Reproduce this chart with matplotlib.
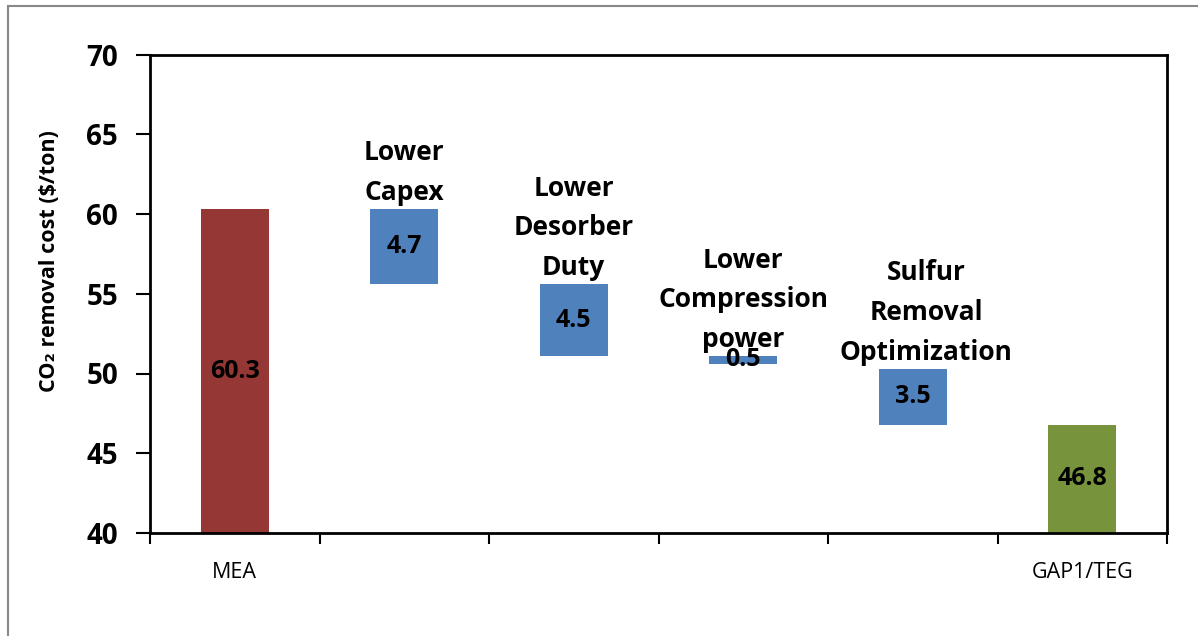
import matplotlib
matplotlib.use("Agg")
import matplotlib.pyplot as plt
from matplotlib.lines import Line2D

plt.rcParams['font.family'] = ['Open Sans', 'DejaVu Sans']

# ---- data ----
categories = ["MEA", "Lower\nCapex", "Lower\nDesorber\nDuty", "Lower\nCompression\npower",
              "Sulfur\nRemoval\nOptimization", "GAP1/TEG"]
tick_labels = ["MEA", "", "", "", "", "GAP1/TEG"]
values = [60.3, 4.7, 4.5, 0.5, 3.5, 46.8]
bottoms = [0, 55.6, 51.1, 50.6, 46.8, 0]
colors = ["#953735", "#4F81BD", "#4F81BD", "#4F81BD", "#4F81BD", "#77933C"]
value_labels = ["60.3", "4.7", "4.5", "0.5", "3.5", "46.8"]

W, H = 1198, 636
fig = plt.figure(figsize=(W / 100, H / 100), dpi=100)
ax = fig.add_axes([150 / W, 1 - 533 / H, (1167 - 150) / W, (533 - 54.5) / H])

x = list(range(len(categories)))
ax.bar(x, values, bottom=bottoms, width=0.4, color=colors, zorder=2)

ax.set_xlim(-0.5, len(categories) - 0.5)
ax.set_ylim(40, 70)
ax.set_yticks([40, 45, 50, 55, 60, 65, 70])
ax.tick_params(axis='y', labelsize=20, width=1.5, length=10, pad=13, direction='out')
for lbl in ax.get_yticklabels():
    lbl.set_fontweight('bold')

ax.set_xticks(x)
ax.set_xticklabels(tick_labels, fontsize=15.5)
ax.tick_params(axis='x', which='major', length=0, pad=21)
ax.set_xticks([i - 0.5 for i in range(len(categories) + 1)], minor=True)
ax.tick_params(axis='x', which='minor', length=8, width=1.5, direction='out')

for s in ax.spines.values():
    s.set_linewidth(2)
    s.set_color('black')

# value labels inside bars
for i, (v, b, t) in enumerate(zip(values, bottoms, value_labels)):
    lo = max(b, 40)
    yc = (lo + b + v) / 2
    ax.text(i, yc, t, ha='center', va='center', fontsize=18, fontweight='bold', zorder=3)

# category labels above bars
offsets = [0, 0, 0, 0, 0.08, 0]
for i in range(1, len(categories) - 1):
    top = bottoms[i] + values[i]
    ax.text(i + offsets[i], top + 0.2, categories[i], ha='center', va='bottom',
            fontsize=19, fontweight='bold', linespacing=1.6, zorder=3)

fig.text(50 / W, 1 - 261 / H, "CO\u2082 removal cost ($/ton)", rotation=90,
         ha='center', va='center', fontsize=15.5, fontweight='bold')

# outer frame (top and left visible)
fig.add_artist(Line2D([8 / W, 8 / W], [0, 1 - 6 / H], color='#888888', lw=1.5))
fig.add_artist(Line2D([8 / W, 1], [1 - 6 / H, 1 - 6 / H], color='#888888', lw=1.5))

fig.savefig("out.png", dpi=100)
